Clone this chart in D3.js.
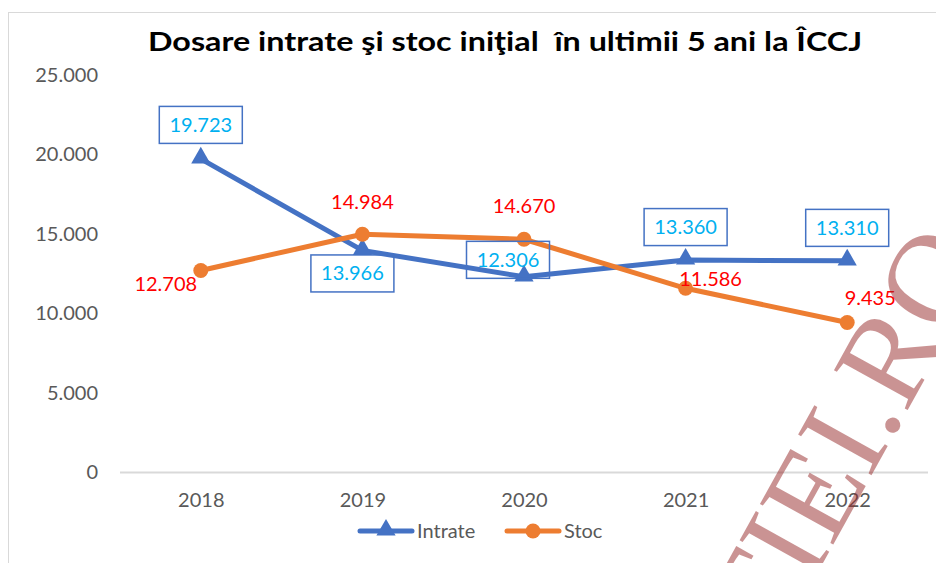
<!DOCTYPE html>
<html>
<head>
<meta charset="utf-8">
<script src="https://cdnjs.cloudflare.com/ajax/libs/d3/7.8.5/d3.min.js"></script>
<style>
  body { margin: 0; background: #fff; }
  svg { display: block; }
</style>
</head>
<body>
<div id="chart"></div>
<script>
var years = ["2018", "2019", "2020", "2021", "2022"];
var intrate = [19723, 13966, 12306, 13360, 13310];
var stoc = [12708, 14984, 14670, 11586, 9435];
var yTicks = [0, 5000, 10000, 15000, 20000, 25000];

// label placement relative to the point (box centre / text baseline)
var intrateLabelOffset = [[0, -34], [-10, 23], [-16, -17], [0, -33], [0, -33]];
var stocLabelOffset = [[-35, 21], [0, -25], [0, -26], [25, -2], [23, -17]];

var width = 936, height = 563;
var blue = "#4472c4", orange = "#ed7d31";
var fontFam = "Lato, 'Open Sans', sans-serif";

var fmt = function(v) { return d3.format(",")(v).replace(/,/g, "."); };

var svg = d3.select("#chart").append("svg")
    .attr("width", width)
    .attr("height", height);

// chart frame (cut by the page edge)
svg.append("rect")
    .attr("x", 8.5).attr("y", 12.5)
    .attr("width", 1000).attr("height", 700)
    .attr("fill", "#fff")
    .attr("stroke", "#d9d9d9");

svg.append("text")
    .attr("x", 505).attr("y", 51)
    .attr("text-anchor", "middle")
    .attr("font-family", fontFam)
    .attr("font-weight", "bold")
    .attr("font-size", 27)
    .attr("textLength", 714)
    .attr("lengthAdjust", "spacingAndGlyphs")
    .style("white-space", "pre")
    .attr("fill", "#000")
    .text("Dosare intrate şi stoc iniţial  în ultimii 5 ani la ÎCCJ");

var x = d3.scalePoint().domain(years).range([120, 928]).padding(0.5);
var y = d3.scaleLinear().domain([0, 25000]).range([472.5, 75]);

// y axis labels
var yAxis = svg.append("g")
    .attr("transform", "translate(98,0)")
    .call(d3.axisLeft(y).tickValues(yTicks).tickFormat(fmt).tickSize(0).tickPadding(0));
yAxis.select(".domain").remove();
yAxis.selectAll("text")
    .attr("font-family", fontFam).attr("font-size", 20).attr("fill", "#595959");

// x axis
var xAxis = svg.append("g")
    .attr("transform", "translate(0," + y(0) + ")")
    .call(d3.axisBottom(x).tickSize(0).tickPadding(20));
xAxis.select(".domain").attr("stroke", "#d9d9d9").attr("stroke-width", 2)
    .attr("d", "M120,0H928");
xAxis.selectAll("text")
    .attr("font-family", fontFam).attr("font-size", 20).attr("fill", "#595959");

var line = d3.line()
    .x(function(d, i) { return x(years[i]); })
    .y(function(d) { return y(d); });

svg.append("path").datum(intrate)
    .attr("d", line).attr("fill", "none")
    .attr("stroke", blue).attr("stroke-width", 5).attr("stroke-linejoin", "round");
svg.append("path").datum(stoc)
    .attr("d", line).attr("fill", "none")
    .attr("stroke", orange).attr("stroke-width", 5).attr("stroke-linejoin", "round");

var tri = d3.symbol().type(d3.symbolTriangle).size(160);

svg.selectAll(".tri").data(intrate).enter().append("path")
    .attr("class", "tri")
    .attr("d", tri)
    .attr("transform", function(d, i) { return "translate(" + x(years[i]) + "," + (y(d) - 1) + ")"; })
    .attr("fill", blue);

svg.selectAll(".dot").data(stoc).enter().append("circle")
    .attr("class", "dot")
    .attr("cx", function(d, i) { return x(years[i]); })
    .attr("cy", function(d) { return y(d); })
    .attr("r", 7.5)
    .attr("fill", orange);

// Intrate labels in boxes
var lab = svg.selectAll(".ilab").data(intrate).enter().append("g")
    .attr("class", "ilab")
    .attr("transform", function(d, i) {
        return "translate(" + (x(years[i]) + intrateLabelOffset[i][0]) + "," + (y(d) + intrateLabelOffset[i][1]) + ")";
    });
lab.append("rect")
    .attr("x", -41.5).attr("y", -18.5)
    .attr("width", 83).attr("height", 37)
    .attr("fill", "none")
    .attr("stroke", blue).attr("stroke-width", 1.5);
lab.append("text")
    .attr("text-anchor", "middle")
    .attr("y", 7)
    .attr("font-family", fontFam).attr("font-size", 20)
    .attr("fill", "#00b0f0")
    .text(function(d) { return fmt(d); });

// Stoc labels
svg.selectAll(".slab").data(stoc).enter().append("text")
    .attr("class", "slab")
    .attr("x", function(d, i) { return x(years[i]) + stocLabelOffset[i][0]; })
    .attr("y", function(d, i) { return y(d) + stocLabelOffset[i][1]; })
    .attr("text-anchor", "middle")
    .attr("font-family", fontFam).attr("font-size", 20)
    .attr("fill", "#ff0000")
    .text(function(d) { return fmt(d); });

// legend
var legend = svg.append("g").attr("transform", "translate(0,531)");
var series = [{name: "Intrate", color: blue, x: 358}, {name: "Stoc", color: orange, x: 505}];
var lg = legend.selectAll("g").data(series).enter().append("g")
    .attr("transform", function(d) { return "translate(" + d.x + ",0)"; });
lg.append("line")
    .attr("x1", 2).attr("x2", 54)
    .attr("stroke", function(d) { return d.color; })
    .attr("stroke-width", 5).attr("stroke-linecap", "round");
lg.each(function(d, i) {
    var g = d3.select(this);
    if (i === 0) {
        g.append("path").attr("d", tri).attr("transform", "translate(28,-1)").attr("fill", d.color);
    } else {
        g.append("circle").attr("cx", 28).attr("r", 7.5).attr("fill", d.color);
    }
});
lg.append("text")
    .attr("x", 59)
    .attr("y", 7)
    .attr("font-family", fontFam).attr("font-size", 20)
    .attr("fill", "#595959")
    .text(function(d) { return d.name; });

// watermark over the chart
var wm = svg.append("g")
    .attr("transform", "translate(890,442) rotate(-61)")
    .attr("font-family", "'Liberation Serif', 'DejaVu Serif', serif")
    .attr("font-size", 128)
    .attr("fill", "#962828")
    .attr("fill-opacity", 0.5);
wm.append("text").attr("text-anchor", "end").text("LUMEAJUSTITIEI");
wm.append("text").attr("text-anchor", "start").text(".RO");
</script>
</body>
</html>
